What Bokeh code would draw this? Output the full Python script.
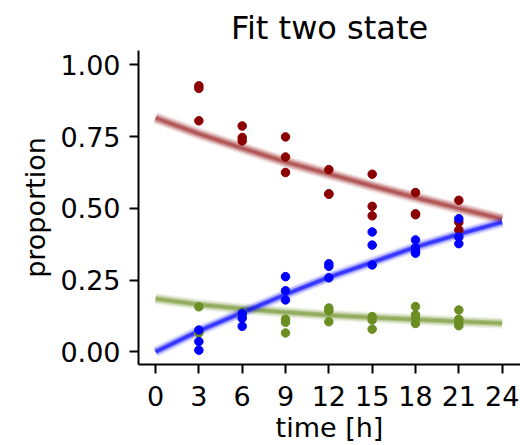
from bokeh.plotting import figure
from bokeh.embed import file_html
from bokeh.resources import INLINE
from bokeh.models import FixedTicker, Range1d

# ---- data ----
x_ticks = [0, 3, 6, 9, 12, 15, 18, 21, 24]
y_ticks = [0.0, 0.25, 0.5, 0.75, 1.0]
y_tick_labels = ["0.00", "0.25", "0.50", "0.75", "1.00"]

# observed points
red_t = [3, 3, 3, 6, 6, 6, 9, 9, 9, 12, 12, 12, 15, 15, 15, 18, 18, 18, 21, 21, 21]
red_v = [0.927, 0.918, 0.805, 0.787, 0.747, 0.735, 0.749, 0.679, 0.625,
         0.635, 0.549, 0.551, 0.619, 0.507, 0.474, 0.555, 0.481, 0.478,
         0.528, 0.452, 0.425]

green_t = [3, 3, 3, 6, 6, 6, 9, 9, 9, 12, 12, 12, 15, 15, 15,
           18, 18, 18, 18, 21, 21, 21, 21]
green_v = [0.157, 0.066, 0.070, 0.138, 0.130, 0.122, 0.114, 0.103, 0.066,
           0.153, 0.143, 0.105, 0.123, 0.111, 0.079,
           0.158, 0.129, 0.118, 0.099, 0.146, 0.114, 0.102, 0.091]

blue_t = [3, 3, 3, 6, 6, 6, 9, 9, 9, 12, 12, 12, 15, 15, 15,
          18, 18, 18, 18, 21, 21, 21]
blue_v = [0.076, 0.036, 0.006, 0.134, 0.117, 0.089, 0.262, 0.213, 0.181,
          0.307, 0.298, 0.258, 0.418, 0.372, 0.303,
          0.390, 0.363, 0.351, 0.344, 0.464, 0.400, 0.377]

# fitted curves (read at 3 h steps)
fit_t = [0, 3, 6, 9, 12, 15, 18, 21, 24]
red_fit = [0.815, 0.760, 0.710, 0.662, 0.620, 0.578, 0.538, 0.500, 0.463]
green_fit = [0.185, 0.165, 0.150, 0.138, 0.128, 0.120, 0.113, 0.106, 0.100]
blue_fit = [0.000, 0.073, 0.137, 0.200, 0.260, 0.312, 0.365, 0.410, 0.452]

FONT = "DejaVu Sans"

p = figure(width=520, height=445, output_backend="svg", toolbar_location=None,
           x_range=Range1d(-1.18, 25.27), y_range=Range1d(-0.044, 1.05),
           min_border_left=138, min_border_right=0, min_border_top=50,
           min_border_bottom=81, title="Fit two state")

p.title.text_font = FONT
p.title.text_font_size = "32px"
p.title.text_font_style = "normal"
p.title.align = "center"
p.title.text_color = "black"
p.title.standoff = 7

p.grid.visible = False
p.outline_line_color = None

for ax in (p.xaxis[0], p.yaxis[0]):
    ax.axis_line_width = 2
    ax.axis_line_color = "black"
    ax.major_tick_out = 9
    ax.major_tick_in = 0
    ax.major_tick_line_width = 2
    ax.major_tick_line_color = "black"
    ax.minor_tick_line_color = None
    ax.major_label_text_font = FONT
    ax.major_label_text_font_size = "27px"
    ax.major_label_text_color = "black"
    ax.axis_label_text_font = FONT
    ax.axis_label_text_font_size = "27px"
    ax.axis_label_text_font_style = "normal"
    ax.axis_label_text_color = "black"

p.xaxis.ticker = FixedTicker(ticks=x_ticks)
p.yaxis.ticker = FixedTicker(ticks=y_ticks)
p.yaxis.major_label_overrides = {t: l for t, l in zip(y_ticks, y_tick_labels)}
p.xaxis.axis_label = "time [h]"
p.yaxis.axis_label = "proportion"
p.xaxis.major_label_standoff = 12
p.xaxis.axis_label_standoff = 3
p.yaxis.major_label_standoff = 9
p.yaxis.axis_label_standoff = 6

# fuzzy bands for the fits
bands = [(red_fit, "#8b0000", [(12, 0.1), (9, 0.18), (6, 0.28), (3, 0.35)]),
         (green_fit, "#6b8e23", [(11, 0.12), (8, 0.2), (5, 0.35), (3, 0.4)]),
         (blue_fit, "#0000ff", [(11, 0.1), (8, 0.2), (5, 0.4), (3, 0.5)])]
for vals, col, layers in bands:
    for w, a in layers:
        p.line(fit_t, vals, line_color=col, line_width=w, line_alpha=a,
               line_cap="butt", line_join="round")

p.scatter(red_t, red_v, size=8.5, color="#8b0000")
p.scatter(green_t, green_v, size=8.5, color="#6b8e23")
p.scatter(blue_t, blue_v, size=8.5, color="#0000ff")

open("out.html", "w").write(file_html(p, INLINE))
